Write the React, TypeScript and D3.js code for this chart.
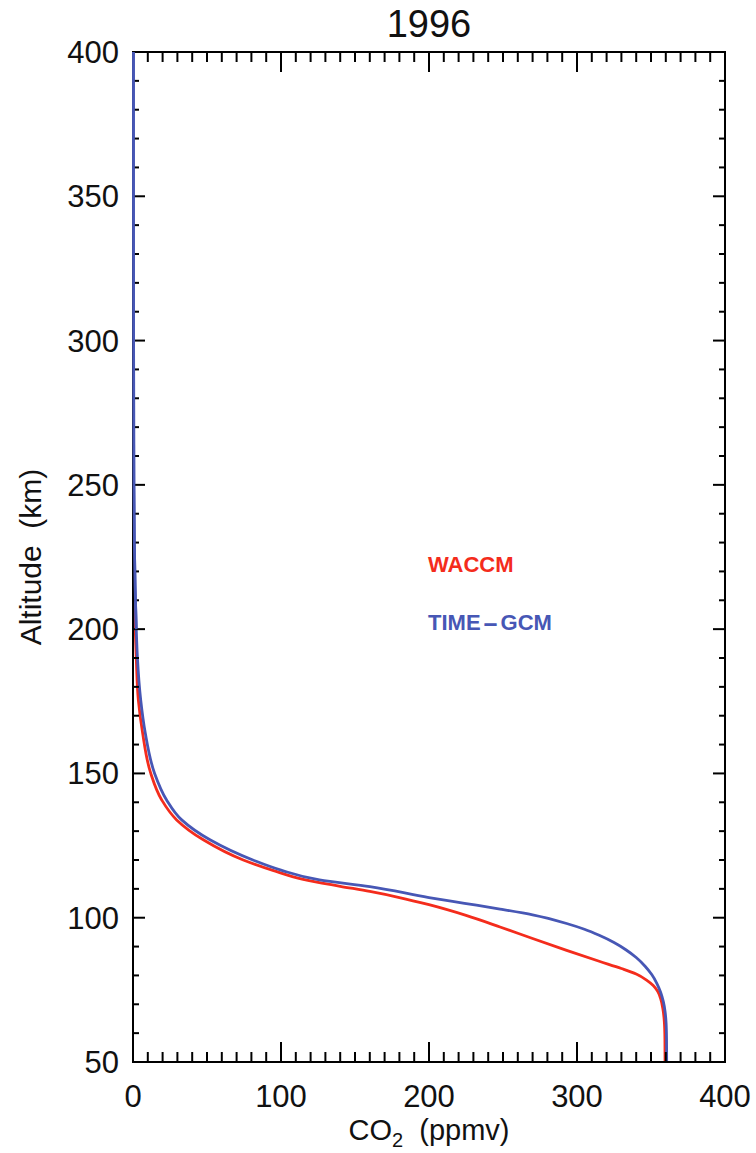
import React from "react";
import * as d3 from "d3";

const title = "1996";
const xTicks = [0, 100, 200, 300, 400];
const yTicks = [50, 100, 150, 200, 250, 300, 350, 400];

// WACCM profile: altitude (km) and CO2 (ppmv)
const waccmAlt = [50, 58, 64, 68.5, 72, 74.5, 76.5, 78.4, 80.5, 82.4, 84.9, 88.7, 92.8, 96.8, 100.8, 104.5, 107, 109.1, 110.9, 113.3, 116.3, 120, 127, 133.9, 140.8, 150, 164, 175.5, 190, 200, 210, 220, 235];
const waccmCO2 = [359.5, 359.4, 359, 358, 356.5, 354.5, 351.5, 347, 340, 330, 315, 293, 270, 248, 225, 200, 180, 160, 140, 115, 95, 74.5, 47.5, 29.5, 19.4, 12, 6.5, 3.6, 2.2, 1.5, 1.0, 0.6, 0.3];

// TIME-GCM profile
const timeAlt = [50, 58, 63.5, 67.5, 71, 74.2, 77.2, 80.3, 83.2, 86.2, 88.9, 91.4, 93.9, 96, 98, 101, 103, 105, 107, 110.8, 113.1, 116.5, 120, 127, 133.9, 140.8, 150, 164, 175.5, 190, 200, 215, 230, 250, 300, 350, 400];
const timeCO2 = [360.6, 360.5, 360.2, 359.5, 358.3, 356.5, 354, 350.5, 346, 340, 333, 325, 315, 305, 293, 270, 248, 224, 200, 160, 126, 100, 81, 52, 32.9, 22.7, 14.6, 8.3, 5.2, 3.0, 2.2, 1.4, 0.9, 0.6, 0.4, 0.3, 0.3];

const series = [
  { name: "WACCM", alt: waccmAlt, co2: waccmCO2, color: "#f42c1c" },
  { name: "TIME-GCM", alt: timeAlt, co2: timeCO2, color: "#4757b5" },
];

export default function App() {
  const W = 756, H = 1153;
  const left = 133, right = 725, top = 52, bottom = 1062;
  const x = d3.scaleLinear().domain([0, 400]).range([left, right]);
  const y = d3.scaleLinear().domain([50, 400]).range([bottom, top]);
  const majLenX = 20, minLenX = 10, majLenY = 12, minLenY = 6;
  const xMinor = d3.range(0, 401, 10).filter((v) => v % 100 !== 0);
  const yMinor = d3.range(50, 401, 10).filter((v) => v % 50 !== 0);
  const line = d3
    .line<[number, number]>()
    .x((d) => x(d[1]))
    .y((d) => y(d[0]))
    .curve(d3.curveMonotoneY);
  const pts = (alt: number[], co2: number[]) =>
    alt.map((a, i) => [a, co2[i]] as [number, number]).sort((a, b) => b[0] - a[0]);
  const font = "'Liberation Sans', Arial, Helvetica, sans-serif";
  const ax = { stroke: "#000", strokeWidth: 2 };

  return (
    <svg width={W} height={H} style={{ position: "absolute", left: 0, top: 0, background: "#fff" }} fontFamily={font}>
      <rect x={0} y={0} width={W} height={H} fill="#fff" />
      {series.map((s) => (
        <path
          key={s.name}
          d={line(pts(s.alt, s.co2)) || ""}
          fill="none"
          stroke={s.color}
          strokeWidth={2.8}
        />
      ))}
      {/* frame */}
      <rect x={left} y={top} width={right - left} height={bottom - top} fill="none" {...ax} />
      {xTicks.map((v) => (
        <g key={"xt" + v}>
          <line x1={x(v)} x2={x(v)} y1={bottom} y2={bottom - majLenX} {...ax} />
          <line x1={x(v)} x2={x(v)} y1={top} y2={top + majLenX} {...ax} />
          <text x={x(v)} y={1107} textAnchor="middle" fontSize={31} fill="#111">{v}</text>
        </g>
      ))}
      {xMinor.map((v) => (
        <g key={"xm" + v}>
          <line x1={x(v)} x2={x(v)} y1={bottom} y2={bottom - minLenX} {...ax} />
          <line x1={x(v)} x2={x(v)} y1={top} y2={top + minLenX} {...ax} />
        </g>
      ))}
      {yTicks.map((v) => (
        <g key={"yt" + v}>
          <line x1={left} x2={left + majLenY} y1={y(v)} y2={y(v)} {...ax} />
          <line x1={right} x2={right - majLenY} y1={y(v)} y2={y(v)} {...ax} />
          <text x={119} y={y(v) + 11} textAnchor="end" fontSize={31} fill="#111">{v}</text>
        </g>
      ))}
      {yMinor.map((v) => (
        <g key={"ym" + v}>
          <line x1={left} x2={left + minLenY} y1={y(v)} y2={y(v)} {...ax} />
          <line x1={right} x2={right - minLenY} y1={y(v)} y2={y(v)} {...ax} />
        </g>
      ))}
      {/* blue profile hugging the left axis drawn over the frame */}
      <path
        d={line(pts(timeAlt, timeCO2).filter((d) => d[0] >= 200)) || ""}
        fill="none"
        stroke="#4757b5"
        strokeWidth={2.8}
      />
      <text x={(left + right) / 2} y={37} textAnchor="middle" fontSize={38} fill="#111">{title}</text>
      <text x={(left + right) / 2} y={1140} textAnchor="middle" fontSize={29} fill="#111" style={{ whiteSpace: "pre" }}>
        CO<tspan fontSize={20} dy={7}>2</tspan><tspan dy={-7}>{"  (ppmv)"}</tspan>
      </text>
      <text
        transform={`translate(41, ${(top + bottom) / 2}) rotate(-90)`}
        textAnchor="middle"
        fontSize={30}
        fill="#111"
        style={{ whiteSpace: "pre" }}
      >
        {"Altitude  (km)"}
      </text>
      <text x={428} y={572} fontSize={22} fontWeight="bold" fill={series[0].color}>
        {series[0].name}
      </text>
      <text x={428} y={630} fontSize={22} fontWeight="bold" fill={series[1].color}>
        TIME<tspan dx={2} textLength={16} lengthAdjust="spacingAndGlyphs">-</tspan><tspan dx={2}>GCM</tspan>
      </text>
    </svg>
  );
}
